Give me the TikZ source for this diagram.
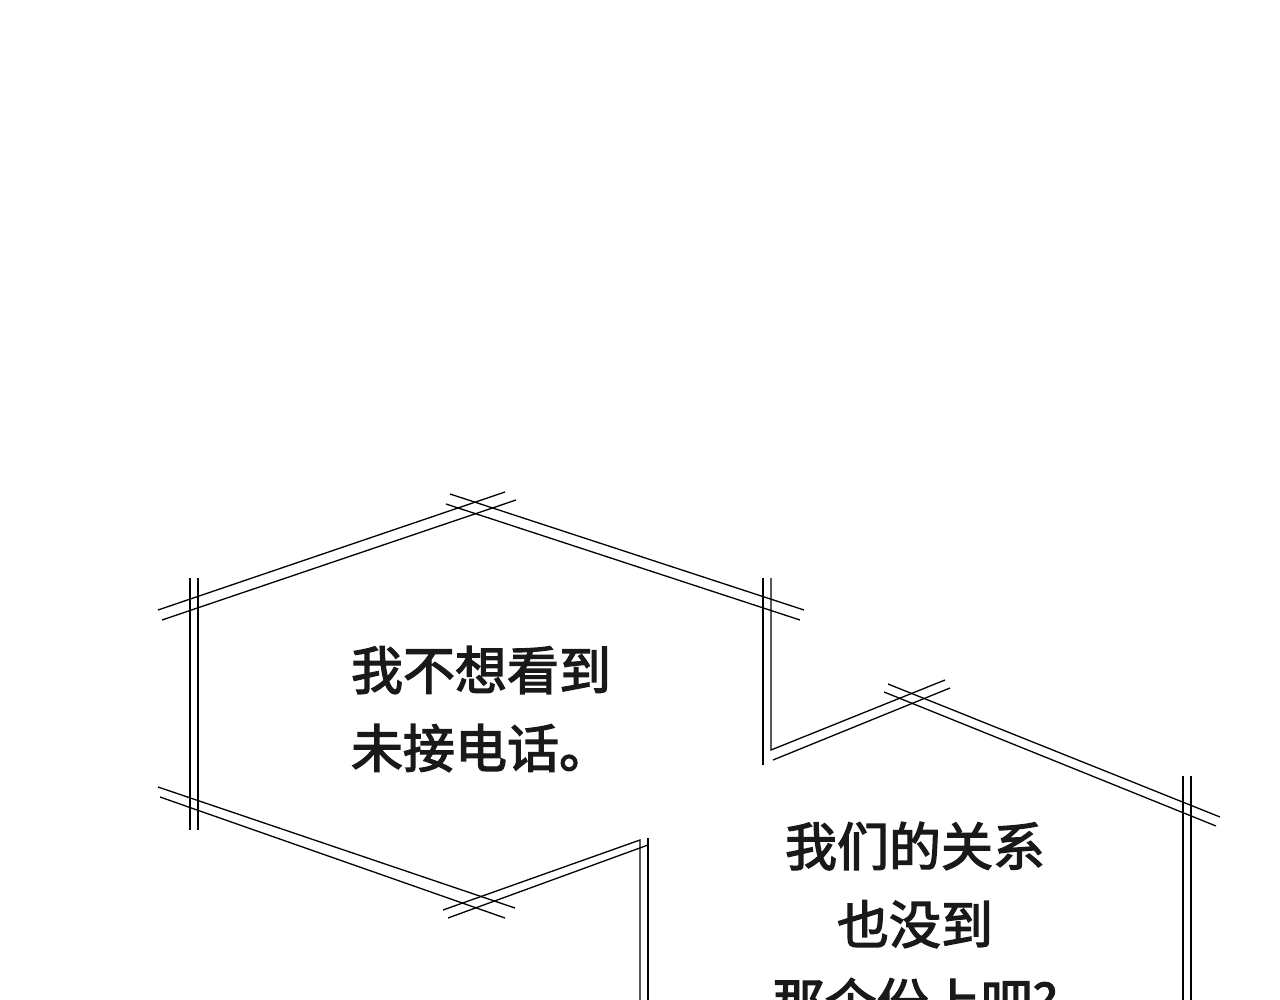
\documentclass[tikz,border=0pt]{standalone}
\usepackage{fontspec}
\newfontfamily\cjk{Noto Sans CJK SC}[FakeBold=2.5]
\begin{document}
\begin{tikzpicture}[x=1pt,y=-1pt,ln/.style={line width=1.3pt,black},
 txt/.style={font=\cjk\fontsize{52}{78}\selectfont,align=center,text=black!90}]
\useasboundingbox (0,0) rectangle (1280,1000);
\clip (0,0) rectangle (1280,1000);
\fill[white] (0,0) rectangle (1280,1000);
% bubble 1
\draw[ln] (158,610) -- (505,492);
\draw[ln] (162,620) -- (516,500);
\draw[ln] (450,494) -- (804,610);
\draw[ln] (446,504) -- (800,620);
\draw[ln] (190,578) -- (190,830);
\draw[ln] (198,578) -- (198,830);
\draw[ln] (158,787) -- (515,908);
\draw[ln] (160,797) -- (505,918);
\draw[ln] (763,578) -- (763,765);
\draw[ln] (771,578) -- (771,750) -- (945,680);
\draw[ln] (773,760) -- (950,688);
\draw[ln] (443,910) -- (640,840) -- (640,1000);
\draw[ln] (448,918) -- (648,845);
\draw[ln] (648,838) -- (648,1000);
% bubble 2
\draw[ln] (888,684) -- (1220,817);
\draw[ln] (884,692) -- (1216,826);
\draw[ln] (1183,776) -- (1183,1000);
\draw[ln] (1191,776) -- (1191,1000);
\node[txt] (t1) at (481,709) {我不想看到\\未接电话。};
\node[txt] (t2) at (915,924) {我们的关系\\也没到\\那个份上吧?};
\end{tikzpicture}
\end{document}
